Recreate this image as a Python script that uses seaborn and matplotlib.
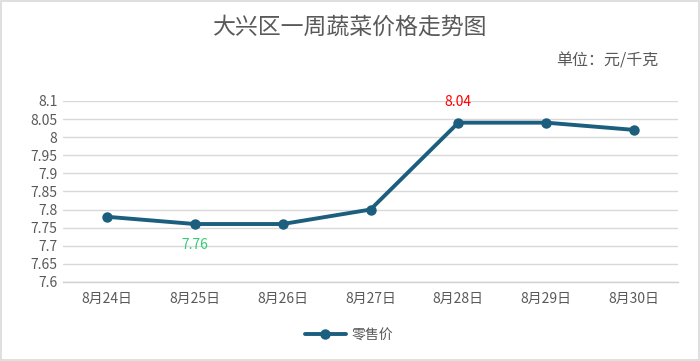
import pandas as pd
import matplotlib.pyplot as plt
import seaborn as sns
from matplotlib.patches import Rectangle
from matplotlib.ticker import FixedLocator

dates = ["8月24日", "8月25日", "8月26日", "8月27日", "8月28日", "8月29日", "8月30日"]
prices = [7.78, 7.76, 7.76, 7.80, 8.04, 8.04, 8.02]
y_ticks = [7.6, 7.65, 7.7, 7.75, 7.8, 7.85, 7.9, 7.95, 8.0, 8.05, 8.1]
y_labels = ["7.6", "7.65", "7.7", "7.75", "7.8", "7.85", "7.9", "7.95", "8", "8.05", "8.1"]

df = pd.DataFrame({"日期": dates, "零售价": prices})

sns.set_style("white")
plt.rcParams['font.family'] = ['Noto Sans CJK SC', 'DejaVu Sans']

text_color = '#595959'
line_color = '#1b5e7e'

fig = plt.figure(figsize=(7, 3.61), dpi=100)
ax = fig.add_axes([0.09, 0.219, 0.8786, 0.5014])

sns.lineplot(data=df, x="日期", y="零售价", ax=ax, color=line_color, linewidth=2.8,
             marker='o', markersize=7.5, markeredgewidth=0, label="零售价", sort=False)

ax.set_xlim(-0.5, len(dates) - 0.5)
ax.set_ylim(7.6, 8.1)
ax.set_yticks(y_ticks)
ax.set_yticklabels(y_labels)
ax.yaxis.grid(True, color='#d9d9d9', linewidth=1)
ax.set_axisbelow(True)
for s in ['left', 'right', 'top']:
    ax.spines[s].set_visible(False)
ax.spines['bottom'].set_color('#d0d0d0')
ax.spines['bottom'].set_linewidth(1)

ax.xaxis.set_minor_locator(FixedLocator([i - 0.5 for i in range(len(dates) + 1)]))
ax.tick_params(axis='x', which='major', length=0, labelsize=10, labelcolor=text_color, pad=7)
ax.tick_params(axis='x', which='minor', length=5, color='#d0d0d0', direction='out')
ax.tick_params(axis='y', length=0, labelsize=10, labelcolor=text_color, pad=4)
ax.set_xlabel("")
ax.set_ylabel("")

# data labels
ax.annotate(f"{prices[4]:.2f}", (4, prices[4]), xytext=(0, 10), textcoords='offset points',
            ha='center', va='bottom', color='#ff0000', fontsize=10)
ax.annotate(f"{prices[1]:.2f}", (1, prices[1]), xytext=(0, -10), textcoords='offset points',
            ha='center', va='top', color='#33cc77', fontsize=10)

fig.text(0.5, 0.925, "大兴区一周蔬菜价格走势图", ha='center', va='center', fontsize=16.5, color=text_color)
fig.text(0.94, 0.83, "单位：元/千克", ha='right', va='center', fontsize=11.5, color=text_color)

leg = ax.legend(loc='center', bbox_to_anchor=(0.465, -0.295), frameon=False, fontsize=10,
                handlelength=3, handletextpad=0.4)
for t in leg.get_texts():
    t.set_color(text_color)

fig.patches.append(Rectangle((0.002, 0.003), 0.996, 0.994, transform=fig.transFigure,
                             fill=False, edgecolor='#d9d9d9', linewidth=1.2))

fig.savefig("out.png", dpi=100)
